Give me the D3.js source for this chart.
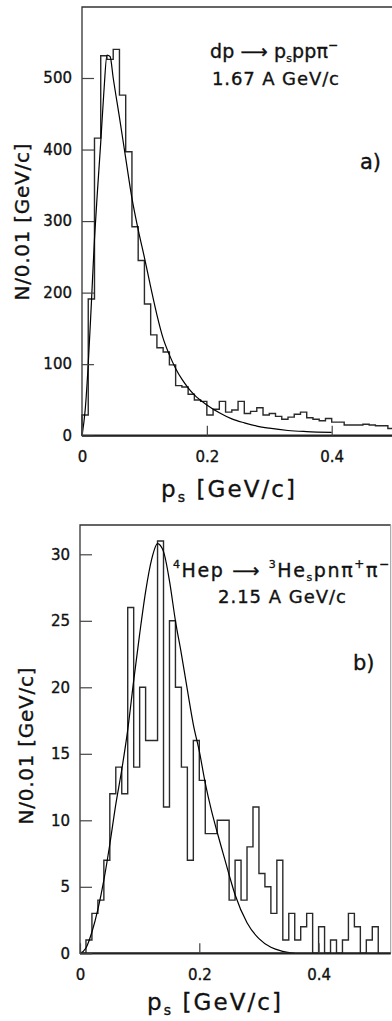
<!DOCTYPE html>
<html>
<head>
<meta charset="utf-8">
<script src="https://cdn.jsdelivr.net/npm/d3@7"></script>
<style>
  body { margin: 0; background: #fff; }
  svg { display: block; }
  text { font-family: "DejaVu Sans", sans-serif; fill: #111; stroke: #111; stroke-width: 0.35px; }
</style>
</head>
<body>
<svg id="chart" width="392" height="1021"></svg>
<script>
// bin contents, 0.01 GeV/c bins from 0 to 0.5
const topCounts = [29, 191, 416, 531, 526, 540, 476, 397, 292, 245,
  184, 141, 123, 117, 99, 70, 68, 58, 50, 48,
  29, 37, 48, 33, 36, 48, 31, 34, 39, 29,
  31, 27, 23, 26, 30, 33, 25, 23, 21, 24,
  19, 19, 15, 15, 15, 16, 15, 14, 14, 10];
const botCounts = [0, 1, 3, 4, 7, 12, 14, 12, 26, 14,
  20, 16, 16, 31, 11, 25, 20, 14, 7, 16,
  13, 9, 9, 10, 10, 4, 7, 4, 8, 11,
  6, 5, 3, 7, 1, 3, 1, 2, 3, 0,
  2, 0, 1, 0, 1, 3, 2, 0, 1, 2];
const binWidth = 0.01;

// fitted curves
const topFitP = [0, 0.005, 0.01, 0.015, 0.02, 0.025, 0.03, 0.035, 0.04, 0.045, 0.05, 0.06, 0.07, 0.08, 0.09,
  0.1, 0.11, 0.12, 0.13, 0.14, 0.15, 0.16, 0.17, 0.18, 0.2, 0.22, 0.24, 0.26, 0.28, 0.3, 0.33, 0.36, 0.4];
const topFitN = [0, 35, 100, 185, 275, 345, 410, 480, 532, 530, 500, 445, 388, 332, 288,
  249, 208, 169, 136, 113, 94, 79, 67, 57, 43, 32, 23.5, 18, 13.5, 10.5, 7.3, 5.8, 4.7];
const botFitP = [0, 0.01, 0.02, 0.03, 0.04, 0.05, 0.06, 0.07, 0.08, 0.09, 0.1, 0.11, 0.12, 0.13, 0.14,
  0.15, 0.16, 0.17, 0.18, 0.19, 0.2, 0.21, 0.22, 0.23, 0.24, 0.25, 0.26, 0.28, 0.3, 0.32, 0.34, 0.36];
const botFitN = [0, 0.4, 1.6, 3.3, 5.5, 8.2, 11.2, 13.8, 16.8, 20.5, 24, 27.2, 29.6, 30.8, 30.2,
  28, 25, 22.5, 19.8, 17.2, 15.2, 12.8, 10.8, 9.1, 7.5, 5.9, 4.4, 2.3, 1.1, 0.45, 0.15, 0];

const xTicks = [0, 0.2, 0.4];
const topYTicks = [0, 100, 200, 300, 400, 500];
const botYTicks = [0, 5, 10, 15, 20, 25, 30];

const svg = d3.select("#chart");

function drawPanel(o) {
  const x = d3.scaleLinear().domain([0, 0.5]).range([o.left, o.left + o.pxPerGeV * 0.5]);
  const y = d3.scaleLinear().domain([0, o.yRef]).range([o.base, o.yRefPx]);
  const g = svg.append("g");

  // histogram outline
  const pts = [[0, 0]];
  o.counts.forEach((c, i) => pts.push([i * binWidth, c]));
  pts.push([o.counts.length * binWidth, o.counts[o.counts.length - 1]]);
  pts.push([o.counts.length * binWidth, 0]);
  g.append("path")
    .attr("d", d3.line().x(d => x(d[0])).y(d => y(d[1])).curve(d3.curveStepAfter)(pts))
    .attr("fill", "none")
    .attr("stroke", "#2a2a2a")
    .attr("stroke-width", 1.4);

  // fit curve
  g.append("path")
    .attr("d", d3.line().x((d, i) => x(o.fitP[i])).y(d => y(d)).curve(d3.curveMonotoneX)(o.fitN))
    .attr("fill", "none")
    .attr("stroke", "#000")
    .attr("stroke-width", 1.2);

  // frame
  g.append("path")
    .attr("d", `M${o.right},${o.top}H${o.left}V${o.base}H${o.right}`)
    .attr("fill", "none")
    .attr("stroke", "#333")
    .attr("stroke-width", 1.3);
  if (o.closeRight) {
    g.append("line")
      .attr("x1", o.right).attr("x2", o.right).attr("y1", o.top).attr("y2", o.base)
      .attr("stroke", "#999").attr("stroke-width", 1);
  }
  g.append("line")
    .attr("x1", o.left).attr("x2", o.right).attr("y1", o.base).attr("y2", o.base)
    .attr("stroke", "#222").attr("stroke-width", 2.2);

  // axes, ticks drawn inward
  const ya = g.append("g")
    .attr("transform", `translate(${o.left},0)`)
    .call(d3.axisLeft(y).tickValues(o.yTicks).tickSize(-12).tickPadding(10).tickFormat(d3.format("d")));
  const xa = g.append("g")
    .attr("transform", `translate(0,${o.base})`)
    .call(d3.axisBottom(x).tickValues(xTicks).tickSize(-10).tickPadding(16)
      .tickFormat(d => d === 0 ? "0" : d.toFixed(1)));
  [ya, xa].forEach(a => {
    a.select(".domain").remove();
    a.selectAll(".tick line").attr("stroke", "#444").attr("stroke-width", 1.2);
    a.selectAll("text").style("font-size", "15px").attr("fill", "#111");
  });

  // axis titles
  g.append("text")
    .attr("transform", `translate(${o.yTitleX},${o.yTitleY}) rotate(-90)`)
    .attr("text-anchor", "middle")
    .attr("dy", "0.35em")
    .style("font-size", "20px")
    .attr("textLength", 157)
    .text("N/0.01 [GeV/c]");
  const xt = g.append("text")
    .attr("x", o.xTitleX).attr("y", o.xTitleY)
    .style("font-size", "23px")
    .attr("textLength", 134);
  xt.append("tspan").text("p");
  xt.append("tspan").attr("dy", 5).style("font-size", "14px").text("s");
  xt.append("tspan").attr("dy", -5).text(" [GeV/c]");
  return g;
}

const gTop = drawPanel({
  left: 82, right: 394, top: 7, base: 435.7, pxPerGeV: 624.25,
  yRef: 500, yRefPx: 78, counts: topCounts, fitP: topFitP, fitN: topFitN,
  yTicks: topYTicks, closeRight: false,
  yTitleX: 22, yTitleY: 222, xTitleX: 161, xTitleY: 497
});
const gBot = drawPanel({
  left: 80, right: 390.7, top: 525, base: 953.3, pxPerGeV: 596.5,
  yRef: 30, yRefPx: 554.3, counts: botCounts, fitP: botFitP, fitN: botFitN,
  yTicks: botYTicks, closeRight: true,
  yTitleX: 26, yTitleY: 746, xTitleX: 147, xTitleY: 1010
});

// reaction labels
const t1 = gTop.append("text").attr("x", 210).attr("y", 58).style("font-size", "19px")
  .attr("textLength", 128);
t1.append("tspan").text("dp \u27F6 p");
t1.append("tspan").attr("dy", 4).style("font-size", "11px").text("s");
t1.append("tspan").attr("dy", -4).text("pp\u03C0");
t1.append("tspan").attr("dy", -9).style("font-size", "12px").text("\u2212");
gTop.append("text").attr("x", 212).attr("y", 85).style("font-size", "18px")
  .attr("textLength", 127).text("1.67 A GeV/c");
gTop.append("text").attr("x", 360).attr("y", 169).style("font-size", "21px").text("a)");

const t2 = gBot.append("text").attr("x", 173).attr("y", 577).style("font-size", "19px")
  .attr("textLength", 216);
t2.append("tspan").attr("dy", -9).style("font-size", "11px").text("4");
t2.append("tspan").attr("dy", 9).text("Hep \u27F6 ");
t2.append("tspan").attr("dy", -9).style("font-size", "11px").text("3");
t2.append("tspan").attr("dy", 9).text("He");
t2.append("tspan").attr("dy", 4).style("font-size", "11px").text("s");
t2.append("tspan").attr("dy", -4).text("pn\u03C0");
t2.append("tspan").attr("dy", -9).style("font-size", "12px").text("+");
t2.append("tspan").attr("dy", 9).text("\u03C0");
t2.append("tspan").attr("dy", -9).style("font-size", "12px").text("\u2212");
gBot.append("text").attr("x", 218).attr("y", 603).style("font-size", "18px")
  .attr("textLength", 128).text("2.15 A GeV/c");
gBot.append("text").attr("x", 353).attr("y", 670).style("font-size", "21px").text("b)");
</script>
</body>
</html>
